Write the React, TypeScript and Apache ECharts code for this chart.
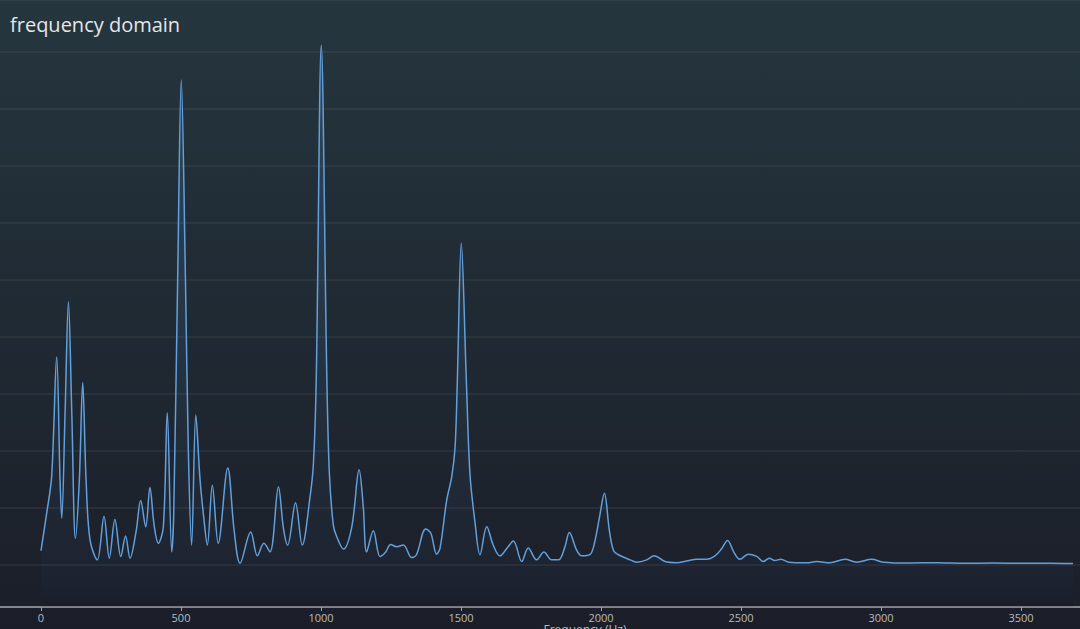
import React, { useEffect, useRef } from "react";
import * as echarts from "echarts";

const titleText = "frequency domain";
const xAxisTitle = "Frequency (Hz)";

const frequencies = [
  0, 20, 38, 56, 68, 74, 86, 98, 110, 123, 137, 149, 161, 175, 201, 225, 244, 264, 285, 302, 318, 340, 356, 374, 389, 404, 419, 437, 451, 467,
  474, 488, 501, 516, 526, 538, 553, 568, 582, 594, 612, 633, 667, 690, 711, 749, 773, 796, 818, 848, 866, 881, 909, 933, 961, 973, 983, 1001,
  1021, 1030, 1044, 1056, 1080, 1110, 1136, 1151, 1163, 1187, 1211, 1231, 1249, 1270, 1294, 1324, 1341, 1374, 1392, 1413, 1425, 1449, 1467,
  1479, 1487, 1501, 1519, 1532, 1550, 1568, 1592, 1615, 1639, 1665, 1687, 1717, 1740, 1770, 1796, 1824, 1848, 1870, 1887, 1913, 1931, 1960,
  1975, 1995, 2012, 2030, 2045, 2062, 2104, 2127, 2163, 2190, 2229, 2270, 2306, 2342, 2377, 2407, 2430, 2452, 2475, 2496, 2526, 2556, 2580,
  2601, 2621, 2642, 2670, 2735, 2770, 2818, 2871, 2913, 2967, 3008, 3100, 3200, 3300, 3400, 3500, 3600, 3686,
];

const magnitudes = [
  2.5, 9, 15.5, 36.5, 15, 8.2, 26.7, 46.2, 26.7, 4.7, 15, 32, 15, 4.4, 0.9, 8.5, 1.2, 8, 1.5, 5.1, 1.2, 6, 11.3, 6.7, 13.6, 7, 3.8, 6.7, 26.7, 2.3,
  9, 50, 85.1, 50, 20.7, 3.5, 26.3, 15, 8, 3.5, 14, 3.8, 17, 6, 0.3, 5.8, 1.6, 3.8, 2.3, 13.7, 6.4, 3.5, 10.9, 3.5, 12, 17.8, 32.5, 91.2,
  32.5, 16, 7, 5, 2.8, 6.7, 16.7, 10.2, 2.3, 6, 1.5, 2.3, 3.6, 3.2, 3.5, 1.3, 1.8, 6.3, 5.6, 1.9, 2.9, 11.4, 15.5,
  20.8, 32.5, 56.5, 32.5, 16, 7.5, 1.8, 6.7, 3.5, 1.6, 3, 4.2, 0.6, 3, 0.9, 2.3, 0.9, 0.9, 3, 5.7, 2.6, 1.6, 1.8,
  3.5, 8.5, 12.6, 6, 2.5, 1.8, 0.9, 0.5, 0.9, 1.6, 0.6, 0.4, 0.7, 1, 1, 1.6, 2.8, 4.3, 2.2, 1, 1.9, 1.5, 0.6,
  1.2, 0.8, 1, 0.5, 0.4, 0.6, 0.4, 1, 0.5, 1, 0.5, 0.35, 0.4, 0.3, 0.35, 0.3, 0.3, 0.25,
];

const xMin = -146.4;
const xMax = 3710.7;
const yMin = -7.37;
const yMax = 99.12;

export default function App() {
  const ref = useRef<HTMLDivElement>(null);

  useEffect(() => {
    if (!ref.current) return;
    const chart = echarts.init(ref.current, null, { renderer: "svg" });
    const data = frequencies.map((f, i) => [f, magnitudes[i]]);
    chart.setOption({
      animation: false,
      backgroundColor: new echarts.graphic.LinearGradient(0, 0, 0, 1, [
        { offset: 0, color: "#25363e" },
        { offset: 1, color: "#1b1e29" },
      ]),
      title: {
        text: titleText,
        left: 5,
        top: 9,
        textStyle: {
          color: "#e4e6e8",
          fontSize: 20,
          fontWeight: "normal",
          fontFamily: "Open Sans",
        },
      },
      grid: { left: 0, right: 0, top: 0, bottom: 22, outerBoundsMode: "none", containLabel: false },
      xAxis: {
        type: "value",
        min: xMin,
        max: xMax,
        splitNumber: 8,
        name: xAxisTitle,
        nameLocation: "middle",
        nameGap: 16,
        nameMoveOverlap: false,
        nameTextStyle: {
          color: "#b8bcc0",
          fontSize: 12,
          fontFamily: "Open Sans",
          padding: [0, 0, 0, 90],
        },
        axisLine: { show: true, onZero: false, lineStyle: { color: "#a2a6ab", width: 1.5 } },
        axisTick: { show: true, length: 4, lineStyle: { color: "#a2a6ab" } },
        axisLabel: {
          color: "#b8bcc0",
          fontSize: 11,
          fontFamily: "Open Sans",
          margin: 5,
          showMinLabel: false,
          showMaxLabel: false,
          formatter: (v: number) => String(v),
        },
        splitLine: { show: false },
      },
      yAxis: {
        type: "value",
        min: yMin,
        max: yMax,
        splitNumber: 10,
        axisLine: { show: false },
        axisTick: { show: false },
        axisLabel: { show: false },
        splitLine: { show: true, lineStyle: { color: "rgba(255,255,255,0.07)", width: 1.5 } },
      },
      series: [
        {
          type: "line",
          data,
          smooth: 0.35,
          showSymbol: false,
          symbol: "none",
          lineStyle: { color: "#62a0dc", width: 1.5 },
          areaStyle: {
            origin: "start",
            color: new echarts.graphic.LinearGradient(0, 0, 0, 1, [
              { offset: 0, color: "rgba(90,150,215,0.28)" },
              { offset: 0.85, color: "rgba(90,150,215,0.05)" },
              { offset: 1, color: "rgba(10,20,40,0.15)" },
            ]),
          },
        },
      ],
    });
    return () => chart.dispose();
  }, []);

  return (
    <div style={{ position: "fixed", left: 0, top: 0, width: 1080, height: 629 }}>
      <div ref={ref} style={{ width: 1080, height: 629 }} />
    </div>
  );
}
